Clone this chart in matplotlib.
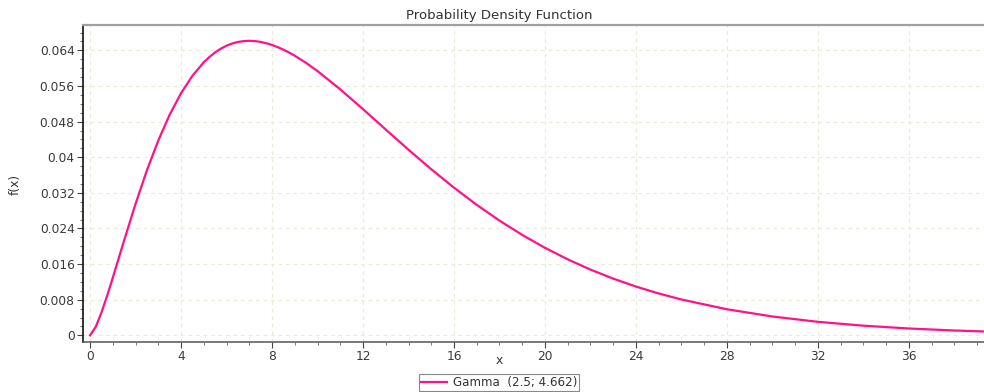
import matplotlib
matplotlib.use("Agg")
import matplotlib.pyplot as plt
from matplotlib.ticker import MultipleLocator, FuncFormatter

# Values (Gamma(2.5; 4.662) PDF)
x_vals = [0, 0.25, 0.5, 0.75, 1, 1.5, 2, 2.5, 3, 3.5, 4, 4.5, 5, 5.25, 5.5, 5.75, 6,
          6.25, 6.5, 6.75, 7, 7.25, 7.5, 7.75, 8, 8.25, 8.5, 8.75, 9, 9.5, 10, 11, 12,
          13, 14, 15, 16, 17, 18, 19, 20, 21, 22, 23, 24, 25, 26, 28, 30, 32, 34, 36,
          38, 39.3]
y_vals = [0.0, 0.001899, 0.005091, 0.008865, 0.012935, 0.021347, 0.029524, 0.037064,
          0.043767, 0.049544, 0.054376, 0.058286, 0.061322, 0.062532, 0.063553,
          0.064386, 0.065050, 0.065543, 0.065888, 0.066082, 0.066148, 0.066079,
          0.065899, 0.065604, 0.065217, 0.064726, 0.064159, 0.063509, 0.062796,
          0.061178, 0.059349, 0.055247, 0.050796, 0.046219, 0.041681, 0.037301,
          0.033160, 0.029305, 0.025765, 0.022548, 0.019650, 0.017060, 0.014762,
          0.012733, 0.010952, 0.009396, 0.0080415, 0.005852, 0.004226, 0.003031,
          0.002162, 0.001534, 0.001083, 0.000862]
series_label = "Gamma  (2.5; 4.662)"
title = "Probability Density Function"
x_label = "x"
y_label = "f(x)"

fig = plt.figure(figsize=(9.84, 3.92), dpi=100)
ax = fig.add_axes([83/984, 1 - 342/392, 1 - 83/984, (342 - 25)/392])

line_color = "#ff1289"
ax.plot(x_vals, y_vals, color=line_color, lw=1.6, label=series_label,
        solid_joinstyle="round")

ax.set_xlim(-0.31, 39.3)
ax.set_ylim(-0.0015, 0.0697)

ax.xaxis.set_major_locator(MultipleLocator(4))
ax.xaxis.set_minor_locator(MultipleLocator(1))
ax.yaxis.set_major_locator(MultipleLocator(0.008))
ax.yaxis.set_minor_locator(MultipleLocator(0.002))

def yfmt(v, pos):
    if abs(v) < 1e-12:
        return "0"
    return ("%.3f" % v).rstrip("0")
ax.yaxis.set_major_formatter(FuncFormatter(yfmt))
ax.xaxis.set_major_formatter(FuncFormatter(lambda v, p: "%d" % round(v)))

fs = 8.8
tick_color = "#444444"
ax.tick_params(axis="both", which="major", length=4, width=0.8, color=tick_color,
               labelsize=fs, labelcolor="#3a3a3a", pad=2)
ax.tick_params(axis="both", which="minor", length=2.5, width=0.7, color="#777777")

ax.grid(True, which="major", color="#ecebd8", linestyle=(0, (3, 3)), lw=0.9)
ax.set_axisbelow(True)

ax.spines["left"].set_color("#111111")
ax.spines["left"].set_linewidth(1.2)
ax.spines["bottom"].set_color("#555555")
ax.spines["bottom"].set_linewidth(1.1)
ax.spines["top"].set_color("#a0a0a0")
ax.spines["top"].set_linewidth(1.6)
ax.spines["right"].set_visible(False)

fig.text(499/984, 1 - 16/392, title, ha="center", va="center", fontsize=9.5, color="#333333")
fig.text(499/984, 1 - 361/392, x_label, ha="center", va="center", fontsize=fs, color="#333333")
fig.text(15/984, 1 - 184/392, y_label, ha="center", va="center", rotation=90, fontsize=fs, color="#333333")

leg = fig.legend(loc="lower center", bbox_to_anchor=(499/984, 1/392), fontsize=8.6,
                 frameon=True, fancybox=False, framealpha=1, edgecolor="#888888",
                 borderpad=0.15, handlelength=2.2, handletextpad=0.5, borderaxespad=0)
leg.get_frame().set_linewidth(0.8)
for t in leg.get_texts():
    t.set_color("#333333")

fig.savefig("out.png", dpi=100)
